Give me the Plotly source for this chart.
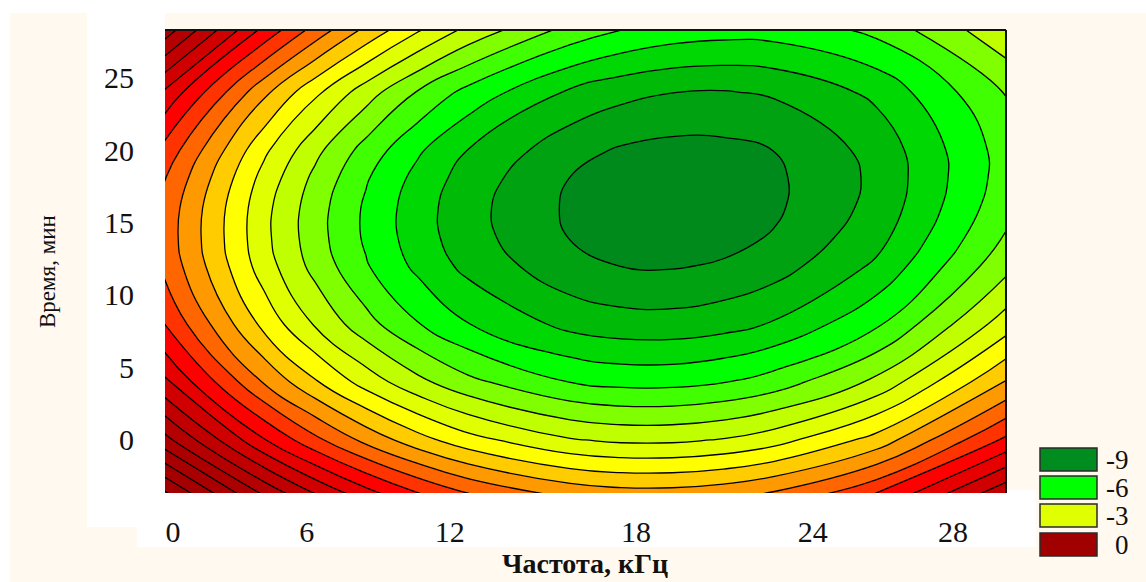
import plotly.graph_objects as go

# ---- data ----
# grid nodes: frequency axis coordinate and time (min)
freq_nodes = [-0.5, 4, 6.25, 8.5, 10.75, 13, 17.5, 19.75, 22, 24.25, 26.5, 31, 37]
time_nodes = [-4, 0, 4, 8, 12, 14, 16, 18, 20, 24, 28.5]

# response values on the grid, one row per time node
z_t_m4 = [7.97, 4.61, 3.22, 2.03, 1.04, 0.24, -0.77, -0.98, -0.99, -0.81, -0.43, 0.91, 3.93]
z_t_0 = [4.86, 1.56, 0.20, -0.97, -1.94, -2.72, -3.69, -3.89, -3.89, -3.70, -3.31, -1.96, 1.06]
z_t_4 = [2.47, -0.81, -2.16, -3.32, -4.28, -5.05, -6.02, -6.22, -6.22, -6.03, -5.65, -4.32, -1.33]
z_t_8 = [0.81, -2.47, -3.82, -4.98, -5.95, -6.73, -7.73, -7.94, -7.96, -7.79, -7.43, -6.13, -3.22]
z_t_12 = [-0.07, -3.38, -4.75, -5.93, -6.92, -7.72, -8.77, -9.01, -9.06, -8.92, -8.59, -7.37, -4.58]
z_t_14 = [-0.21, -3.54, -4.93, -6.12, -7.13, -7.95, -9.03, -9.29, -9.36, -9.24, -8.94, -7.77, -5.04]
z_t_16 = [-0.15, -3.51, -4.91, -6.12, -7.15, -7.99, -9.12, -9.40, -9.49, -9.40, -9.12, -8.01, -5.36]
z_t_18 = [0.13, -3.27, -4.69, -5.93, -6.98, -7.85, -9.02, -9.33, -9.45, -9.39, -9.14, -8.09, -5.53]
z_t_20 = [0.62, -2.83, -4.28, -5.54, -6.62, -7.51, -8.74, -9.08, -9.23, -9.20, -8.99, -8.00, -5.54]
z_t_24 = [2.25, -1.31, -2.82, -4.14, -5.28, -6.24, -7.61, -8.02, -8.24, -8.29, -8.15, -7.32, -5.08]
z_t_28 = [5.17, 1.45, -0.14, -1.55, -2.78, -3.83, -5.39, -5.89, -6.22, -6.36, -6.33, -5.71, -3.77]

# axis ticks
x_tick_pos = [0, 5.9, 12.2, 20.4, 28.19, 34.36]
x_tick_text = ["0", "6", "12", "18", "24", "28"]
y_tick_vals = [0, 5, 10, 15, 20, 25]

# legend entries
legend_labels = ["-9", "-6", "-3", "0"]
legend_colors = ["#008C1E", "#00FF00", "#E0FF00", "#A00000"]

# ---- style ----
band_colors = [
    "#008A1C", "#00A212", "#00BA08", "#00D804", "#00FF00", "#40FF00",
    "#80FF00", "#C0FF00", "#E0FF00", "#FFFF00", "#FFCC00", "#FF9900",
    "#FF6600", "#FF3300", "#FF0000", "#E60000", "#D00000", "#C00000",
    "#B40000", "#AC0000", "#A80000", "#A40000", "#A20000", "#A00000",
    "#A00000",
]
n = len(band_colors)
colorscale = [[i / (n - 1), c] for i, c in enumerate(band_colors)]

z = [z_t_m4, z_t_0, z_t_4, z_t_8, z_t_12, z_t_14, z_t_16, z_t_18, z_t_20, z_t_24, z_t_28]

W, H = 1146, 582
L, R, T, B = 165, 1006, 30, 493


def px(xp):
    return (xp - L) / (R - L)


def py(yp):
    return (B - yp) / (B - T)


fig = go.Figure()
fig.add_trace(go.Contour(
    x=freq_nodes, y=time_nodes, z=z,
    autocontour=False,
    contours=dict(start=-9, end=8.25, size=0.75, coloring="fill"),
    colorscale=colorscale,
    line=dict(color="black", width=1.3, smoothing=1.3),
    showscale=False,
    hoverinfo="skip",
))

CREAM = "#FFF9F0"
shapes = [
    dict(type="rect", xref="paper", yref="paper", x0=px(10), x1=px(W + 5), y0=py(13), y1=py(H + 5),
         fillcolor=CREAM, line_width=0, layer="below"),
    dict(type="rect", xref="paper", yref="paper", x0=px(87), x1=px(L), y0=py(0), y1=py(527),
         fillcolor="white", line_width=0, layer="below"),
    dict(type="rect", xref="paper", yref="paper", x0=px(137), x1=px(1036), y0=py(490), y1=py(547),
         fillcolor="white", line_width=0, layer="below"),
    # frame: top and right edges
    dict(type="line", xref="paper", yref="paper", x0=0, x1=1, y0=1, y1=1,
         line=dict(color="#111111", width=2)),
    dict(type="line", xref="paper", yref="paper", x0=1, x1=1, y0=0, y1=1,
         line=dict(color="#111111", width=2)),
]

annotations = []
box_tops = [448, 476, 504, 533]
for lab, col, top in zip(legend_labels, legend_colors, box_tops):
    shapes.append(dict(type="rect", xref="paper", yref="paper",
                       x0=px(1040), x1=px(1097), y0=py(top), y1=py(top + 23),
                       fillcolor=col, line=dict(color="#2a2a2a", width=1.5)))
    annotations.append(dict(xref="paper", yref="paper", x=px(1131), y=py(top + 11.5),
                            text=lab, showarrow=False, xanchor="right", yanchor="middle",
                            font=dict(family="Liberation Serif", size=27, color="#111111")))

annotations.append(dict(xref="paper", yref="paper", x=px(585), y=py(563),
                        text="<b>Частота, кГц</b>", showarrow=False,
                        xanchor="center", yanchor="middle",
                        font=dict(family="Liberation Serif", size=28, color="#111111")))
annotations.append(dict(xref="paper", yref="paper", x=px(47), y=py(272),
                        text="Время, мин", showarrow=False, textangle=-90,
                        xanchor="center", yanchor="middle",
                        font=dict(family="Liberation Serif", size=23, color="#111111")))

fig.update_layout(
    width=W, height=H,
    margin=dict(l=L, r=W - R, t=T, b=H - B, pad=0),
    paper_bgcolor="white", plot_bgcolor="rgba(0,0,0,0)",
    shapes=shapes, annotations=annotations, showlegend=False,
)
fig.update_xaxes(range=[-0.35, 36.7], tickvals=x_tick_pos, ticktext=x_tick_text,
                 showgrid=False, zeroline=False, showline=False,
                 ticks="outside", ticklen=12, tickcolor="rgba(0,0,0,0)",
                 tickfont=dict(family="Liberation Serif", size=30, color="#111111"))
fig.update_yaxes(range=[-3.66, 28.28], tickvals=y_tick_vals,
                 showgrid=False, zeroline=False, showline=False,
                 ticks="outside", ticklen=24, tickcolor="rgba(0,0,0,0)",
                 tickfont=dict(family="Liberation Serif", size=30, color="#111111"))

fig.write_html("out.html")
